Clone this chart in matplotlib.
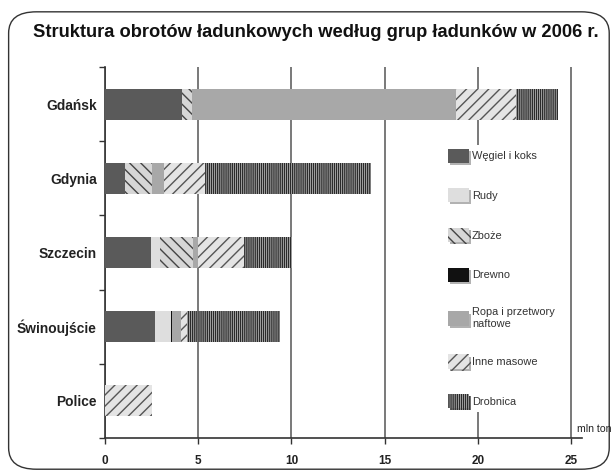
import matplotlib
matplotlib.use("Agg")
import matplotlib.pyplot as plt
import numpy as np
from matplotlib.patches import FancyBboxPatch, Patch
from matplotlib import patheffects as pe

plt.rcParams['font.family'] = ['Liberation Sans', 'DejaVu Sans']
plt.rcParams['hatch.linewidth'] = 1.0

categories = ['Gdańsk', 'Gdynia', 'Szczecin', 'Świnoujście', 'Police']
wegiel = [4.15, 1.07, 2.45, 2.68, 0.0]
rudy = [0.0, 0.0, 0.5, 0.84, 0.0]
zboze = [0.5, 1.47, 1.75, 0.0, 0.0]
drewno = [0.0, 0.0, 0.0, 0.08, 0.0]
ropa = [14.17, 0.62, 0.3, 0.5, 0.0]
inne = [3.22, 2.2, 2.45, 0.28, 2.54]
drobnica = [2.25, 8.89, 2.6, 5.0, 0.0]

series = [
    ('Węgiel i koks', wegiel, '#5a5a5a', None, '#5a5a5a'),
    ('Rudy', rudy, '#dedede', None, '#dedede'),
    ('Zboże', zboze, '#d6d6d6', '\\\\\\', '#444444'),
    ('Drewno', drewno, '#111111', None, '#111111'),
    ('Ropa i przetwory\nnaftowe', ropa, '#a8a8a8', None, '#a8a8a8'),
    ('Inne masowe', inne, '#e4e4e4', '///', '#555555'),
    ('Drobnica', drobnica, '#cfcfcf', '||||||||', '#2a2a2a'),
]

xticks = [0, 5, 10, 15, 20, 25]

fig = plt.figure(figsize=(6.16, 4.73), dpi=100)

# rounded frame
frame = FancyBboxPatch((0.014, 0.008), 0.975, 0.967, boxstyle="round,pad=0,rounding_size=0.045",
                       transform=fig.transFigure, facecolor='none', edgecolor='#333333',
                       linewidth=1.0, zorder=-1)
fig.patches.append(frame)

fig.text(0.054, 0.932, 'Struktura obrotów ładunkowych według grup ładunków w 2006 r.',
         fontsize=13.2, fontweight='bold', color='#111111', ha='left', va='center')

ax = fig.add_axes([0.1705, 0.074, 0.7745, 0.784])
ax.set_facecolor('none')

y = np.arange(len(categories))
left = np.zeros(len(categories))
handles = []
for label, vals, fc, hatch, ec in series:
    vals = np.array(vals)
    ax.barh(y, vals, left=left, height=0.42, color=fc, hatch=hatch, edgecolor=ec,
            linewidth=0, zorder=3)
    left += vals
    handles.append(Patch(facecolor=fc, hatch=hatch, edgecolor=ec, linewidth=0, label=label,
                         path_effects=[pe.SimplePatchShadow(offset=(1.5, -1.5),
                                                            shadow_rgbFace='#aaaaaa', alpha=0.9),
                                       pe.Normal()]))

ax.set_xlim(0, 25.6)
ax.set_ylim(4.5, -0.5)
ax.set_xticks(xticks)
ax.set_xticklabels([str(t) for t in xticks], fontsize=8.5, fontweight='bold', color='#222222')
ax.set_yticks(y)
ax.set_yticklabels(categories, fontsize=9.9, fontweight='bold', color='#222222')
ax.set_yticks(np.arange(-0.5, 4.6, 1.0), minor=True)
ax.tick_params(axis='y', which='major', length=0, pad=6)
ax.tick_params(axis='y', which='minor', length=4, width=1, color='#333333', direction='out')
ax.tick_params(axis='x', which='major', length=4, width=1, color='#333333', direction='out', pad=8)

for s in ['top', 'right']:
    ax.spines[s].set_visible(False)
for s in ['left', 'bottom']:
    ax.spines[s].set_color('#333333')
    ax.spines[s].set_linewidth(1.2)

ax.grid(axis='x', color='#555555', linewidth=1.1)
ax.set_axisbelow(True)

ax.text(0.99, 0.012, 'mln ton', transform=ax.transAxes, fontsize=7.6, color='#222222',
        ha='left', va='bottom')

leg = ax.legend(handles=handles, loc='upper left', bbox_to_anchor=(0.7, 0.804),
                frameon=True, facecolor='white', edgecolor='none', framealpha=1,
                fontsize=7.9, handlelength=1.9, handleheight=1.6, labelspacing=2.33,
                handletextpad=0.3, borderpad=0.3, labelcolor='#333333')
leg.set_zorder(5)

fig.savefig('out.png', dpi=100)
